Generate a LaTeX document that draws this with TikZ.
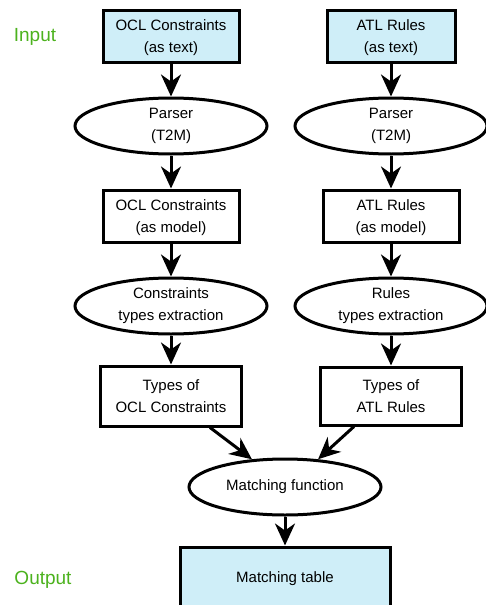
\documentclass[tikz,border=0pt]{standalone}
\usepackage{fontspec}
\setmainfont{Liberation Sans}
\usetikzlibrary{arrows.meta,shapes.geometric}
\definecolor{iofill}{RGB}{207,238,248}
\definecolor{iogreen}{RGB}{76,178,30}

\begin{document}
\begin{tikzpicture}[x=1pt,y=1pt,node distance=90pt,line width=3pt,
                    box node/.style={rectangle,draw,align=center,inner sep=0pt,text depth=-3pt,
                      font=\fontsize{15}{22}\selectfont,minimum width=136pt,minimum height=52pt},
                    io node/.style={box node,fill=iofill},
                    proc node/.style={ellipse,draw,align=center,inner sep=0pt,
                      font=\fontsize{15}{22}\selectfont,minimum width=192pt,minimum height=56pt},
                    side label/.style={text=iogreen,font=\fontsize{19}{22}\selectfont},
                    flow/.style={-{Stealth[length=22pt 0 0,width=20pt 0 0,inset=7pt 0 0]}}]
  \useasboundingbox (0,0) rectangle (485,-605);

  \node[io node] (in1) at (171,-36) {OCL Constraints\\(as text)};
  \node[proc node] (parse1) [below of=in1] {Parser\\(T2M)};
  \node[box node] (model1) [below of=parse1] {OCL Constraints\\(as model)};
  \node[proc node] (ext1) [below of=model1] {Constraints\\types extraction};
  \node[box node,minimum width=141pt,minimum height=60pt] (types1) [below of=ext1] {Types of\\OCL Constraints};

  \node[io node,minimum width=128pt] (in2) at (391,-36) {ATL Rules\\(as text)};
  \node[proc node] (parse2) [below of=in2] {Parser\\(T2M)};
  \node[box node] (model2) [below of=parse2] {ATL Rules\\(as model)};
  \node[proc node] (ext2) [below of=model2] {Rules\\types extraction};
  \node[box node,minimum width=141pt,minimum height=58pt] (types2) [below of=ext2] {Types of\\ATL Rules};

  \node[proc node] (match) at (285,-487) {Matching function};
  \node[io node,minimum width=210pt,minimum height=60pt] (table) [below of=match] {Matching table};

  \node[side label] (inlabel) at (35,-37) {Input};
  \node[side label] (outlabel) at (43,-580) {Output};

  \path[flow]
    (in1) edge (parse1)
    (parse1) edge (model1)
    (model1) edge (ext1)
    (ext1) edge (types1)
    (in2) edge (parse2)
    (parse2) edge (model2)
    (model2) edge (ext2)
    (ext2) edge (types2)
    ([xshift=39pt]types1.south) edge (match.140)
    ([xshift=-37pt]types2.south) edge (match.40)
    (match) edge (table);
\end{tikzpicture}
\end{document}
